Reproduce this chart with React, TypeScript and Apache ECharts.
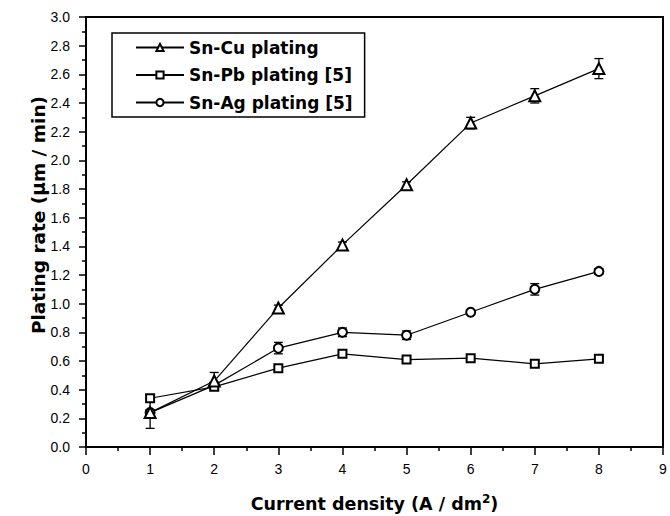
import React, { useEffect, useRef } from "react";
import * as echarts from "echarts";

const densities = [1, 2, 3, 4, 5, 6, 7, 8];
const snCu = [0.24, 0.46, 0.97, 1.41, 1.83, 2.26, 2.45, 2.64];
const snCuErr = [0.11, 0.06, 0.02, 0.02, 0.02, 0.04, 0.05, 0.07];
const snPb = [0.34, 0.42, 0.55, 0.65, 0.61, 0.62, 0.58, 0.615];
const snPbErr = [0.02, 0.02, 0.015, 0.015, 0.02, 0.015, 0.02, 0.015];
const snAg = [0.24, 0.43, 0.69, 0.8, 0.78, 0.94, 1.1, 1.225];
const snAgErr = [0.02, 0.02, 0.04, 0.03, 0.03, 0.015, 0.04, 0.02];
const seriesNames = ["Sn-Cu plating", "Sn-Pb plating [5]", "Sn-Ag plating [5]"];
const yTitle = "Plating rate (μm / min)";

const BOLD = "'DejaVu Sans', sans-serif";
const REG = "'Liberation Sans', Arial, sans-serif";

function lineSeries(name: string, vals: number[], symbol: string, size: number) {
  return {
    name,
    type: "line",
    data: densities.map((d, i) => [d, vals[i]]),
    symbol,
    symbolSize: size,
    showSymbol: true,
    lineStyle: { color: "#000", width: 1.2 },
    itemStyle: { color: "#000", borderColor: "#000", borderWidth: 1.3 },
    z: 3,
  };
}

function errSeries(vals: number[], errs: number[]) {
  return {
    type: "custom",
    data: densities.map((d, i) => [d, vals[i] - errs[i], vals[i] + errs[i]]),
    encode: { x: 0, y: [1, 2] },
    z: 2,
    renderItem: (params: any, api: any) => {
      const x = api.value(0);
      const lo = api.coord([x, api.value(1)]);
      const hi = api.coord([x, api.value(2)]);
      const w = 4.5;
      const st = { stroke: "#000", lineWidth: 1.3 };
      return {
        type: "group",
        children: [
          { type: "line", shape: { x1: lo[0], y1: lo[1], x2: hi[0], y2: hi[1] }, style: st },
          { type: "line", shape: { x1: lo[0] - w, y1: lo[1], x2: lo[0] + w, y2: lo[1] }, style: st },
          { type: "line", shape: { x1: hi[0] - w, y1: hi[1], x2: hi[0] + w, y2: hi[1] }, style: st },
        ],
      };
    },
  };
}

export default function App() {
  const ref = useRef<HTMLDivElement>(null);
  useEffect(() => {
    document.body.style.margin = "0";
    const chart = echarts.init(ref.current!, null, { renderer: "svg" });
    chart.setOption({
      animation: false,
      backgroundColor: "#fff",
      grid: {
        left: 86,
        right: 7,
        top: 17,
        bottom: 69,
        show: true,
        borderColor: "#000",
        borderWidth: 2,
        outerBoundsMode: "none",
      },
      graphic: [
        {
          type: "text",
          x: 38,
          y: 215,
          rotation: Math.PI / 2,
          style: {
            text: yTitle,
            fontFamily: BOLD,
            fontWeight: "bold",
            fontSize: 18.5,
            fill: "#000",
            align: "center",
            verticalAlign: "middle",
          },
        },
      ],
      legend: {
        orient: "vertical",
        left: 112,
        top: 33,
        data: seriesNames,
        selectedMode: false,
        borderColor: "#000",
        borderWidth: 1.5,
        padding: [6, 12, 6, 23],
        itemWidth: 48,
        itemHeight: 9,
        itemGap: 10.5,
        textStyle: { fontFamily: BOLD, fontWeight: "bold", fontSize: 17, color: "#000" },
      },
      xAxis: {
        type: "value",
        min: 0,
        max: 9,
        interval: 1,
        name: "Current density (A / dm{sup|2})",
        nameLocation: "middle",
        nameGap: 46,
        nameTextStyle: {
          fontFamily: BOLD,
          fontWeight: "bold",
          fontSize: 17.5,
          lineHeight: 22,
          color: "#000",
          rich: {
            sup: {
              fontFamily: BOLD,
              fontWeight: "bold",
              fontSize: 12,
              lineHeight: 12,
              verticalAlign: "top",
              color: "#000",
            },
          },
        },
        axisLine: { show: true, onZero: false, lineStyle: { color: "#000", width: 2 } },
        axisTick: { show: true, inside: false, length: 8, lineStyle: { color: "#000", width: 1.5 } },
        minorTick: { show: true, splitNumber: 2, length: 4, lineStyle: { color: "#000", width: 1.5 } },
        axisLabel: { fontFamily: REG, fontSize: 14, color: "#000", margin: 15 },
        splitLine: { show: false },
      },
      yAxis: {
        type: "value",
        min: 0,
        max: 3,
        interval: 0.2,
        axisLine: { show: true, onZero: false, lineStyle: { color: "#000", width: 2 } },
        axisTick: { show: true, inside: false, length: 7, lineStyle: { color: "#000", width: 1.5 } },
        minorTick: { show: true, splitNumber: 2, length: 4, lineStyle: { color: "#000", width: 1.5 } },
        axisLabel: {
          fontFamily: REG,
          fontSize: 14,
          color: "#000",
          margin: 16,
          formatter: (v: number) => v.toFixed(1),
        },
        splitLine: { show: false },
      },
      series: [
        errSeries(snCu, snCuErr),
        errSeries(snPb, snPbErr),
        errSeries(snAg, snAgErr),
        lineSeries(seriesNames[2], snAg, "emptyCircle", 9),
        lineSeries(seriesNames[1], snPb, "emptyRect", 8),
        lineSeries(seriesNames[0], snCu, "emptyTriangle", 11),
      ],
    });
    return () => chart.dispose();
  }, []);
  return <div ref={ref} style={{ width: 670, height: 516 }} />;
}
